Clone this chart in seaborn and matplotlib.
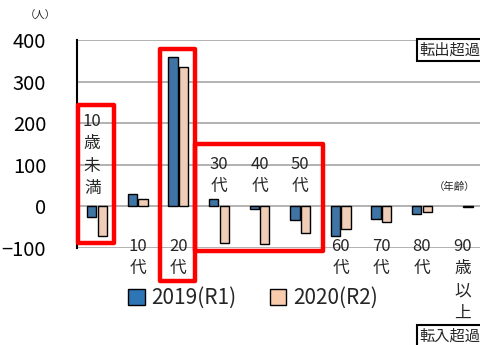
import matplotlib
matplotlib.use("Agg")
import matplotlib.pyplot as plt
import seaborn as sns
import pandas as pd
from matplotlib.patches import Rectangle

# data
ages = ["10歳未満", "10代", "20代", "30代", "40代", "50代", "60代", "70代", "80代", "90歳以上"]
age_labels = ["10\n歳\n未\n満", "10\n代", "20\n代", "30\n代", "40\n代", "50\n代",
              "60\n代", "70\n代", "80\n代", "90\n歳\n以\n上"]
label_high = [True, False, False, True, True, True, False, False, False, False]
years = ["2019(R1)", "2020(R2)"]
v2019 = [-26, 31, 358, 18, -5, -32, -71, -29, -19, 0]
v2020 = [-71, 19, 334, -87, -90, -63, -54, -37, -13, -2]
colors = ["#2E75B6", "#F8CBAD"]

sns.set_style("white")
plt.rcParams['font.family'] = ['Noto Sans CJK JP', 'DejaVu Sans']

df = pd.DataFrame({
    "age": ages * 2,
    "year": [years[0]] * len(ages) + [years[1]] * len(ages),
    "value": v2019 + v2020,
})

fig = plt.figure(figsize=(4.8, 3.45), dpi=100)
ax = fig.add_axes([0.160, 0.281, 0.846, 0.603])

sns.barplot(data=df, x="age", y="value", hue="year", order=ages, hue_order=years,
            palette=colors, width=0.52, gap=0.12, edgecolor="black", linewidth=1,
            legend=False, ax=ax, zorder=3)
for p in ax.patches:
    if p.get_height() == 0:
        p.set_visible(False)

ax.set_ylim(-100, 400)
ax.set_xlim(-0.5, 9.5)
ax.set_yticks([-100, 0, 100, 200, 300, 400])
ax.tick_params(axis="y", length=0, pad=22, labelsize=14.5, labelcolor="black")
ax.set_xticks([])
ax.set_xlabel("")
ax.set_ylabel("")
ax.yaxis.grid(True, color="#A6A6A6", linewidth=1.2, zorder=0)
ax.set_axisbelow(True)
for s in ["top", "right", "bottom"]:
    ax.spines[s].set_visible(False)
ax.spines["left"].set_color("black")
ax.spines["left"].set_linewidth(1.5)

# category labels
for i, (lab, high) in enumerate(zip(age_labels, label_high)):
    if high:
        y = 224 if i == 0 else 121
        x = i - 0.12 if i == 0 else i
    else:
        y = -76
        x = i
    ax.text(x, y, lab, ha="center", va="top", fontsize=12, linespacing=1.4, zorder=4)

# red highlight boxes
for x0, x1, y0, y1 in [(-0.47, 0.42, -89, 245), (1.55, 2.41, -180, 379), (2.41, 5.57, -106, 149)]:
    ax.add_patch(Rectangle((x0, y0), x1 - x0, y1 - y0, fill=False, edgecolor="#FF0000",
                           linewidth=3.2, joinstyle="round", clip_on=False, zorder=5))

# legend
handles = [Rectangle((0, 0), 1, 1, facecolor=c, edgecolor="black", linewidth=1) for c in colors]
fig.legend(handles, years, loc="center", bbox_to_anchor=(0.527, 0.136), ncol=2,
           frameon=False, fontsize=15, handlelength=0.8, handleheight=0.8,
           handletextpad=0.3, columnspacing=1.6)

fig.text(0.515, 1 - 3 / 345, "東京都との関係", ha="center", va="bottom",
         fontsize=26, fontweight="bold")
fig.text(40 / 480, 1 - 16 / 345, "（人）", ha="center", va="center", fontsize=7.5)
fig.text(455 / 480, 1 - 187 / 345, "（年齢）", ha="center", va="center", fontsize=7.5)
fig.text(419 / 480, 1 - 50 / 345, "転出超過", ha="left", va="center", fontsize=11,
         bbox=dict(boxstyle="square,pad=0.15", facecolor="white", edgecolor="black", linewidth=1.5))
fig.text(419 / 480, 1 - 336 / 345, "転入超過", ha="left", va="center", fontsize=11,
         bbox=dict(boxstyle="square,pad=0.15", facecolor="white", edgecolor="black", linewidth=1.5))

fig.savefig("out.png", dpi=100)
